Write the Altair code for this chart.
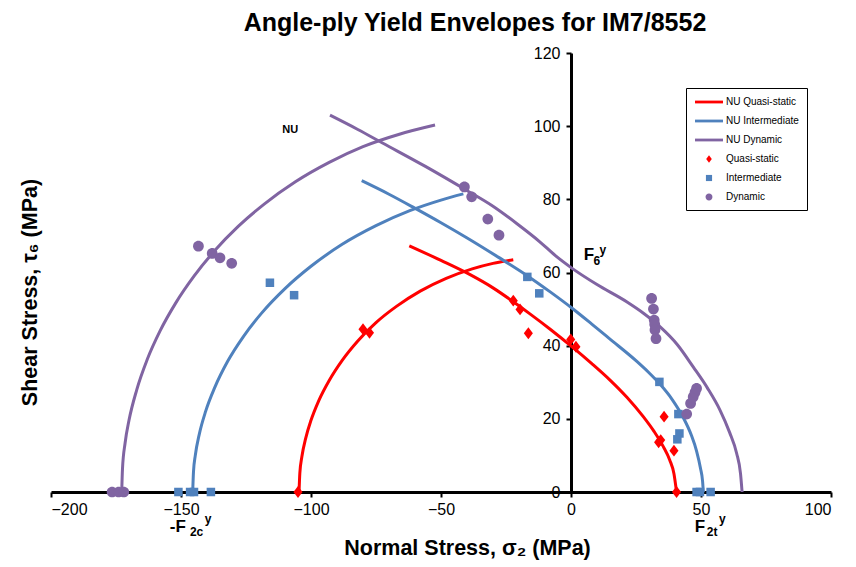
import altair as alt
import pandas as pd

# ---------------- data ----------------
SERIES = ["NU Quasi-static", "NU Intermediate", "NU Dynamic",
          "Quasi-static", "Intermediate", "Dynamic"]
COLORS = ["#FF0000", "#4F81BD", "#8064A2", "#FF0000", "#4F81BD", "#8064A2"]

# NU model curves (compressive branch and shear/tension branch)
qs_comp_x = [-104.6, -104.3, -103.5, -102.0, -100.0, -97.0, -93.0, -88.0, -82.0, -75.0, -67.0, -58.0, -48.0, -38.0, -30.0, -22.2]
qs_comp_y = [0, 5.1, 9.7, 14.8, 19.6, 25.0, 30.5, 36.0, 41.3, 46.3, 50.8, 54.9, 58.4, 61.0, 62.5, 63.5]
qs_tens_x = [-62.2, -50.0, -38.8, -30.0, -22.2, -15.8, -8.0, 0.9, 8.0, 15.0, 21.5, 27.8, 32.0, 35.5, 38.0, 39.6, 40.6]
qs_tens_y = [67.3, 63.3, 59.4, 55.8, 52.0, 48.7, 44.5, 39.4, 35.1, 30.6, 25.9, 20.6, 16.5, 12.4, 8.7, 5.0, 0]

im_comp_x = [-145.5, -145.2, -144.5, -143.0, -140.5, -137.0, -132.0, -126.0, -119.0, -110.0, -100.0, -88.0, -75.0, -62.0, -50.0, -41.4]
im_comp_y = [0, 5.5, 10.0, 15.7, 22.1, 28.6, 35.8, 42.5, 48.9, 55.6, 61.7, 67.7, 72.8, 76.9, 79.8, 81.5]
im_tens_x = [-80.5, -70.0, -60.6, -50.0, -40.1, -28.0, -17.0, -8.0, 0.3, 8.0, 15.0, 25.0, 30.0, 34.2, 39.0, 43.2, 46.3, 48.3, 49.8, 50.6, 50.9]
im_tens_y = [85.1, 81.4, 77.8, 73.6, 69.5, 64.2, 59.2, 54.7, 50.3, 45.9, 41.8, 35.9, 32.6, 29.5, 25.2, 20.3, 15.5, 11.2, 6.5, 3.0, 0]

dy_comp_x = [-172.8, -172.5, -171.5, -170.0, -167.0, -163.0, -158.0, -152.0, -145.0, -137.0, -128.0, -118.0, -106.0, -93.0, -80.0, -66.0, -52.3]
dy_comp_y = [0, 6.4, 13.4, 19.6, 28.0, 36.2, 44.1, 51.7, 59.0, 66.0, 72.6, 78.7, 84.8, 90.1, 94.4, 97.8, 100.3]
dy_tens_x = [-92.7, -82.0, -72.5, -56.0, -40.5, -30.0, -20.9, -12.0, -6.0, 0.3, 10.0, 21.4, 28.0, 34.2, 41.0, 47.0, 52.5, 57.3, 61.0, 63.7, 65.2, 65.8]
dy_tens_y = [103.0, 99.1, 95.4, 89.0, 82.6, 78.1, 73.4, 68.4, 64.6, 61.2, 56.7, 52.0, 48.8, 45.2, 40.2, 34.2, 28.4, 22.4, 16.3, 10.6, 5.0, 0]

# experimental points
qs_pts_x = [-105, -80, -77.5, -22.2, -19.6, -16.4, -0.1, 1.9, 35.8, 33.7, 34.5, 39.6, 40.6]
qs_pts_y = [0, 44.5, 43.5, 52.3, 49.9, 43.4, 41.7, 39.7, 20.6, 13.6, 14.2, 11.3, 0]

im_pts_x = [-151, -146.5, -145, -138.5, -115.8, -106.5, -16.8, -12.2, 34, 41.3, 41.7, 40.9, 48.3, 49.6, 53.7]
im_pts_y = [0, 0, 0, 0, 57.2, 53.8, 58.8, 54.3, 30.1, 21.3, 16.0, 14.4, 0, 0, 0]

dy_pts_x = [-176.5, -174, -172, -143.3, -138, -135, -130.5, -41, -38.2, -32, -27.7,
            31, 31.7, 32, 32.2, 32.3, 32.7, 44.5, 46, 47, 47.7, 48.3]
dy_pts_y = [0, 0, 0, 67.2, 65.2, 64.0, 62.5, 83.4, 80.7, 74.6, 70.2,
            52.9, 50.0, 47.0, 45.8, 44.3, 41.9, 21.3, 24.2, 26.0, 27.2, 28.3]

x_ticks = [-200, -150, -100, -50, 0, 50, 100]
y_ticks = [0, 20, 40, 60, 80, 100, 120]

# ---------------- tables ----------------
curves = []
for name, ser, xs, ys in [
    ("qs_c", "NU Quasi-static", qs_comp_x, qs_comp_y),
    ("qs_t", "NU Quasi-static", qs_tens_x, qs_tens_y),
    ("im_c", "NU Intermediate", im_comp_x, im_comp_y),
    ("im_t", "NU Intermediate", im_tens_x, im_tens_y),
    ("dy_c", "NU Dynamic", dy_comp_x, dy_comp_y),
    ("dy_t", "NU Dynamic", dy_tens_x, dy_tens_y),
]:
    for i, (a, b) in enumerate(zip(xs, ys)):
        curves.append({"x": a, "y": b, "curve": name, "series": ser, "idx": i})
curve_df = pd.DataFrame(curves)

FONT = "Liberation Sans"

xscale = alt.Scale(domain=[-200, 100], nice=False, zero=False)
yscale = alt.Scale(domain=[0, 120], nice=False)

xaxis = alt.Axis(values=x_ticks, title="Normal Stress, σ₂ (MPa)", grid=False,
                 titleFontSize=21.5, titleFontWeight="bold", titleFont=FONT,
                 titleX=416, titleY=56, titleBaseline="middle", titleAnchor="middle",
                 labelPadding=4)
yaxis = alt.Axis(values=y_ticks, title="Shear Stress, τ₆ (MPa)", grid=False, offset=-520,
                 titleFontSize=21.5, titleFontWeight="bold", titleFont=FONT,
                 titleX=-541, titleY=239, titleBaseline="middle", titleAngle=-90,
                 titleAlign="center", labelPadding=6)

SHAPES = [
    "M-2.5,-0.25H2.5V0.25H-2.5Z",
    "M-2.5,-0.25H2.5V0.25H-2.5Z",
    "M-2.5,-0.25H2.5V0.25H-2.5Z",
    "M0,-0.65L0.5,0L0,0.65L-0.5,0Z",
    "M-0.55,-0.55H0.55V0.55H-0.55Z",
    "M0.62,0A0.62,0.62,0,1,1,-0.62,0A0.62,0.62,0,1,1,0.62,0Z",
]
color_scale = alt.Scale(domain=SERIES, range=COLORS)
shape_scale = alt.Scale(domain=SERIES, range=SHAPES)
legend = alt.Legend(title=None, orient="none", legendX=635, legendY=35,
                    strokeColor="black", fillColor="white", padding=8,
                    labelFont=FONT, labelFontSize=10, labelColor="black",
                    rowPadding=8, symbolSize=125, symbolOffset=9, labelOffset=11,
                    symbolStrokeWidth=0, values=SERIES)

lines = alt.Chart(curve_df).mark_line(strokeWidth=3, interpolate="monotone").encode(
    x=alt.X("x:Q", scale=xscale, axis=xaxis),
    y=alt.Y("y:Q", scale=yscale, axis=yaxis),
    stroke=alt.Stroke("series:N", scale=alt.Scale(domain=SERIES[:3], range=COLORS[:3]), legend=None),
    detail="curve:N",
    order="idx:Q",
)


def pts(series_name, xs, ys, size):
    df = pd.DataFrame({"x": xs, "y": ys, "series": series_name})
    return alt.Chart(df).mark_point(filled=True, size=size, opacity=1).encode(
        x=alt.X("x:Q", scale=xscale, axis=xaxis),
        y=alt.Y("y:Q", scale=yscale, axis=yaxis),
        color=alt.Color("series:N", scale=color_scale, legend=legend),
        shape=alt.Shape("series:N", scale=shape_scale, legend=legend),
    )


p_qs = pts("Quasi-static", qs_pts_x, qs_pts_y, 330)
p_im = pts("Intermediate", im_pts_x, im_pts_y, 240)
p_dy = pts("Dynamic", dy_pts_x, dy_pts_y, 300)

# annotations
big_df = pd.DataFrame({"x": [6.9, -151.2, 49.6], "y": [64.8, -9.6, -9.6],
                       "t": ["F", "-F", "F"]})
small_df = pd.DataFrame({"x": [9.9, 12.2, -144.0, -139.6, 54.3, 58.2],
                         "y": [63.2, 66.2, -10.8, -7.4, -10.8, -7.4],
                         "t": ["6", "y", "2c", "y", "2t", "y"]})
nu_df = pd.DataFrame({"x": [-108], "y": [99], "t": ["NU"]})

big = alt.Chart(big_df).mark_text(font=FONT, fontSize=17, fontWeight="bold", color="black",
                                  align="center", baseline="middle").encode(
    x=alt.X("x:Q", scale=xscale, axis=xaxis), y=alt.Y("y:Q", scale=yscale, axis=yaxis), text="t:N")
small = alt.Chart(small_df).mark_text(font=FONT, fontSize=12, fontWeight="bold", color="black",
                                      align="center", baseline="middle").encode(
    x=alt.X("x:Q", scale=xscale, axis=xaxis), y=alt.Y("y:Q", scale=yscale, axis=yaxis), text="t:N")
nu = alt.Chart(nu_df).mark_text(font=FONT, fontSize=11, fontWeight="bold", color="black",
                                align="center", baseline="middle").encode(
    x=alt.X("x:Q", scale=xscale, axis=xaxis), y=alt.Y("y:Q", scale=yscale, axis=yaxis), text="t:N")

chart = alt.layer(lines, p_qs, p_im, p_dy, big, small, nu).properties(
    width=780, height=439,
    autosize=alt.AutoSizeParams(type="none"),
    padding={"left": 43, "top": 45, "right": 17, "bottom": 68},
    title=alt.Title("Angle-ply Yield Envelopes for IM7/8552", font=FONT, fontSize=25,
                    fontWeight="bold", color="black", anchor="middle", dx=34, offset=9,
                    frame="group"),
).configure(background="white").configure_view(stroke=None).configure_axis(
    domainColor="black", domainWidth=3, tickColor="black", tickWidth=2, tickSize=5,
    labelFont=FONT, labelFontSize=16, labelColor="black", titleColor="black",
)

chart.save("out.html", embed_options={"renderer": "svg", "actions": False})
